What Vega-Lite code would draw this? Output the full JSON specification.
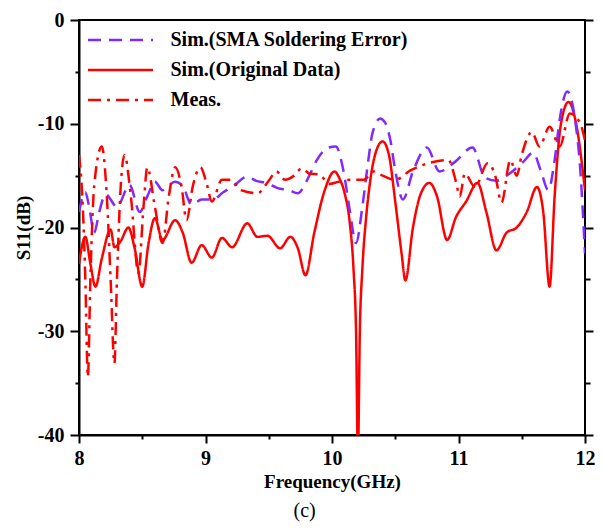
{
  "$schema": "https://vega.github.io/schema/vega-lite/v6.json",
  "width": 506,
  "height": 415,
  "autosize": {"type": "none"},
  "padding": {"left": 79, "top": 20, "right": 19, "bottom": 94},
  "background": "white",
  "title": {"text": "(c)", "orient": "bottom", "anchor": "middle", "frame": "bounds", "font": "Liberation Serif", "fontSize": 20, "fontWeight": "normal", "color": "black", "offset": 10},
  "config": {
    "view": {"stroke": "black", "strokeWidth": 2},
    "axis": {"domainColor": "black", "domainWidth": 2, "tickColor": "black", "tickWidth": 2, "grid": false, "labelFont": "Liberation Serif", "labelFontWeight": "bold", "labelFontSize": 20, "labelColor": "black", "titleFont": "Liberation Serif", "titleFontWeight": "bold", "titleFontSize": 19, "titleColor": "black"}
  },
  "datasets": {
    "d": [
      {"f": 8.00, "s": -23.5, "series": "Sim.(Original Data)"},
      {"f": 8.05, "s": -20.9, "series": "Sim.(Original Data)"},
      {"f": 8.09, "s": -23.5, "series": "Sim.(Original Data)"},
      {"f": 8.13, "s": -25.7, "series": "Sim.(Original Data)"},
      {"f": 8.18, "s": -23.0, "series": "Sim.(Original Data)"},
      {"f": 8.25, "s": -20.2, "series": "Sim.(Original Data)"},
      {"f": 8.28, "s": -21.9, "series": "Sim.(Original Data)"},
      {"f": 8.33, "s": -21.3, "series": "Sim.(Original Data)"},
      {"f": 8.39, "s": -20.0, "series": "Sim.(Original Data)"},
      {"f": 8.44, "s": -22.0, "series": "Sim.(Original Data)"},
      {"f": 8.50, "s": -25.7, "series": "Sim.(Original Data)"},
      {"f": 8.55, "s": -21.5, "series": "Sim.(Original Data)"},
      {"f": 8.60, "s": -19.1, "series": "Sim.(Original Data)"},
      {"f": 8.66, "s": -21.2, "series": "Sim.(Original Data)"},
      {"f": 8.76, "s": -19.3, "series": "Sim.(Original Data)"},
      {"f": 8.82, "s": -20.5, "series": "Sim.(Original Data)"},
      {"f": 8.89, "s": -23.4, "series": "Sim.(Original Data)"},
      {"f": 8.97, "s": -21.7, "series": "Sim.(Original Data)"},
      {"f": 9.05, "s": -22.9, "series": "Sim.(Original Data)"},
      {"f": 9.13, "s": -21.0, "series": "Sim.(Original Data)"},
      {"f": 9.21, "s": -21.9, "series": "Sim.(Original Data)"},
      {"f": 9.33, "s": -19.6, "series": "Sim.(Original Data)"},
      {"f": 9.41, "s": -20.9, "series": "Sim.(Original Data)"},
      {"f": 9.49, "s": -20.8, "series": "Sim.(Original Data)"},
      {"f": 9.59, "s": -22.0, "series": "Sim.(Original Data)"},
      {"f": 9.67, "s": -20.9, "series": "Sim.(Original Data)"},
      {"f": 9.73, "s": -22.0, "series": "Sim.(Original Data)"},
      {"f": 9.79, "s": -24.6, "series": "Sim.(Original Data)"},
      {"f": 9.86, "s": -20.5, "series": "Sim.(Original Data)"},
      {"f": 9.94, "s": -16.5, "series": "Sim.(Original Data)"},
      {"f": 10.02, "s": -14.6, "series": "Sim.(Original Data)"},
      {"f": 10.06, "s": -15.3, "series": "Sim.(Original Data)"},
      {"f": 10.10, "s": -16.7, "series": "Sim.(Original Data)"},
      {"f": 10.14, "s": -19.5, "series": "Sim.(Original Data)"},
      {"f": 10.17, "s": -24.0, "series": "Sim.(Original Data)"},
      {"f": 10.19, "s": -30.0, "series": "Sim.(Original Data)"},
      {"f": 10.205, "s": -42.0, "series": "Sim.(Original Data)"},
      {"f": 10.22, "s": -30.0, "series": "Sim.(Original Data)"},
      {"f": 10.24, "s": -24.0, "series": "Sim.(Original Data)"},
      {"f": 10.27, "s": -19.0, "series": "Sim.(Original Data)"},
      {"f": 10.30, "s": -15.7, "series": "Sim.(Original Data)"},
      {"f": 10.35, "s": -12.6, "series": "Sim.(Original Data)"},
      {"f": 10.40, "s": -11.7, "series": "Sim.(Original Data)"},
      {"f": 10.45, "s": -13.0, "series": "Sim.(Original Data)"},
      {"f": 10.50, "s": -17.5, "series": "Sim.(Original Data)"},
      {"f": 10.55, "s": -22.5, "series": "Sim.(Original Data)"},
      {"f": 10.58, "s": -25.1, "series": "Sim.(Original Data)"},
      {"f": 10.64, "s": -20.0, "series": "Sim.(Original Data)"},
      {"f": 10.70, "s": -16.8, "series": "Sim.(Original Data)"},
      {"f": 10.77, "s": -15.7, "series": "Sim.(Original Data)"},
      {"f": 10.83, "s": -17.0, "series": "Sim.(Original Data)"},
      {"f": 10.91, "s": -21.2, "series": "Sim.(Original Data)"},
      {"f": 10.98, "s": -19.0, "series": "Sim.(Original Data)"},
      {"f": 11.06, "s": -17.5, "series": "Sim.(Original Data)"},
      {"f": 11.15, "s": -15.7, "series": "Sim.(Original Data)"},
      {"f": 11.22, "s": -18.5, "series": "Sim.(Original Data)"},
      {"f": 11.30, "s": -22.2, "series": "Sim.(Original Data)"},
      {"f": 11.38, "s": -20.5, "series": "Sim.(Original Data)"},
      {"f": 11.46, "s": -20.0, "series": "Sim.(Original Data)"},
      {"f": 11.54, "s": -18.5, "series": "Sim.(Original Data)"},
      {"f": 11.62, "s": -16.1, "series": "Sim.(Original Data)"},
      {"f": 11.67, "s": -18.5, "series": "Sim.(Original Data)"},
      {"f": 11.72, "s": -25.7, "series": "Sim.(Original Data)"},
      {"f": 11.76, "s": -17.0, "series": "Sim.(Original Data)"},
      {"f": 11.81, "s": -10.0, "series": "Sim.(Original Data)"},
      {"f": 11.87, "s": -7.9, "series": "Sim.(Original Data)"},
      {"f": 11.93, "s": -10.0, "series": "Sim.(Original Data)"},
      {"f": 12.00, "s": -16.4, "series": "Sim.(Original Data)"},

      {"f": 8.00, "s": -18.5, "series": "Sim.(SMA Soldering Error)"},
      {"f": 8.05, "s": -16.6, "series": "Sim.(SMA Soldering Error)"},
      {"f": 8.08, "s": -18.0, "series": "Sim.(SMA Soldering Error)"},
      {"f": 8.12, "s": -20.5, "series": "Sim.(SMA Soldering Error)"},
      {"f": 8.16, "s": -18.5, "series": "Sim.(SMA Soldering Error)"},
      {"f": 8.21, "s": -16.8, "series": "Sim.(SMA Soldering Error)"},
      {"f": 8.30, "s": -18.0, "series": "Sim.(SMA Soldering Error)"},
      {"f": 8.40, "s": -15.9, "series": "Sim.(SMA Soldering Error)"},
      {"f": 8.48, "s": -18.5, "series": "Sim.(SMA Soldering Error)"},
      {"f": 8.54, "s": -17.0, "series": "Sim.(SMA Soldering Error)"},
      {"f": 8.60, "s": -15.6, "series": "Sim.(SMA Soldering Error)"},
      {"f": 8.66, "s": -16.4, "series": "Sim.(SMA Soldering Error)"},
      {"f": 8.76, "s": -15.6, "series": "Sim.(SMA Soldering Error)"},
      {"f": 8.82, "s": -16.0, "series": "Sim.(SMA Soldering Error)"},
      {"f": 8.89, "s": -17.8, "series": "Sim.(SMA Soldering Error)"},
      {"f": 8.97, "s": -17.3, "series": "Sim.(SMA Soldering Error)"},
      {"f": 9.06, "s": -17.3, "series": "Sim.(SMA Soldering Error)"},
      {"f": 9.14, "s": -16.6, "series": "Sim.(SMA Soldering Error)"},
      {"f": 9.22, "s": -16.0, "series": "Sim.(SMA Soldering Error)"},
      {"f": 9.33, "s": -15.1, "series": "Sim.(SMA Soldering Error)"},
      {"f": 9.40, "s": -15.5, "series": "Sim.(SMA Soldering Error)"},
      {"f": 9.48, "s": -15.7, "series": "Sim.(SMA Soldering Error)"},
      {"f": 9.57, "s": -16.2, "series": "Sim.(SMA Soldering Error)"},
      {"f": 9.66, "s": -16.4, "series": "Sim.(SMA Soldering Error)"},
      {"f": 9.73, "s": -16.7, "series": "Sim.(SMA Soldering Error)"},
      {"f": 9.80, "s": -15.5, "series": "Sim.(SMA Soldering Error)"},
      {"f": 9.88, "s": -13.5, "series": "Sim.(SMA Soldering Error)"},
      {"f": 9.97, "s": -12.3, "series": "Sim.(SMA Soldering Error)"},
      {"f": 10.03, "s": -12.2, "series": "Sim.(SMA Soldering Error)"},
      {"f": 10.09, "s": -14.5, "series": "Sim.(SMA Soldering Error)"},
      {"f": 10.14, "s": -18.3, "series": "Sim.(SMA Soldering Error)"},
      {"f": 10.19, "s": -21.5, "series": "Sim.(SMA Soldering Error)"},
      {"f": 10.24, "s": -18.0, "series": "Sim.(SMA Soldering Error)"},
      {"f": 10.28, "s": -14.2, "series": "Sim.(SMA Soldering Error)"},
      {"f": 10.32, "s": -10.9, "series": "Sim.(SMA Soldering Error)"},
      {"f": 10.38, "s": -9.5, "series": "Sim.(SMA Soldering Error)"},
      {"f": 10.42, "s": -9.9, "series": "Sim.(SMA Soldering Error)"},
      {"f": 10.46, "s": -11.5, "series": "Sim.(SMA Soldering Error)"},
      {"f": 10.50, "s": -14.5, "series": "Sim.(SMA Soldering Error)"},
      {"f": 10.56, "s": -17.3, "series": "Sim.(SMA Soldering Error)"},
      {"f": 10.64, "s": -14.6, "series": "Sim.(SMA Soldering Error)"},
      {"f": 10.75, "s": -12.3, "series": "Sim.(SMA Soldering Error)"},
      {"f": 10.85, "s": -14.6, "series": "Sim.(SMA Soldering Error)"},
      {"f": 10.97, "s": -13.7, "series": "Sim.(SMA Soldering Error)"},
      {"f": 11.11, "s": -12.3, "series": "Sim.(SMA Soldering Error)"},
      {"f": 11.21, "s": -15.2, "series": "Sim.(SMA Soldering Error)"},
      {"f": 11.30, "s": -15.5, "series": "Sim.(SMA Soldering Error)"},
      {"f": 11.38, "s": -15.0, "series": "Sim.(SMA Soldering Error)"},
      {"f": 11.51, "s": -13.7, "series": "Sim.(SMA Soldering Error)"},
      {"f": 11.59, "s": -12.8, "series": "Sim.(SMA Soldering Error)"},
      {"f": 11.65, "s": -14.5, "series": "Sim.(SMA Soldering Error)"},
      {"f": 11.71, "s": -16.4, "series": "Sim.(SMA Soldering Error)"},
      {"f": 11.76, "s": -13.5, "series": "Sim.(SMA Soldering Error)"},
      {"f": 11.80, "s": -9.6, "series": "Sim.(SMA Soldering Error)"},
      {"f": 11.86, "s": -6.9, "series": "Sim.(SMA Soldering Error)"},
      {"f": 11.92, "s": -9.5, "series": "Sim.(SMA Soldering Error)"},
      {"f": 11.96, "s": -14.0, "series": "Sim.(SMA Soldering Error)"},
      {"f": 12.00, "s": -22.5, "series": "Sim.(SMA Soldering Error)"},

      {"f": 8.00, "s": -13.0, "series": "Meas."},
      {"f": 8.03, "s": -18.0, "series": "Meas."},
      {"f": 8.05, "s": -25.0, "series": "Meas."},
      {"f": 8.07, "s": -34.4, "series": "Meas."},
      {"f": 8.09, "s": -25.0, "series": "Meas."},
      {"f": 8.12, "s": -16.0, "series": "Meas."},
      {"f": 8.18, "s": -12.2, "series": "Meas."},
      {"f": 8.22, "s": -17.0, "series": "Meas."},
      {"f": 8.25, "s": -25.0, "series": "Meas."},
      {"f": 8.28, "s": -33.1, "series": "Meas."},
      {"f": 8.30, "s": -25.0, "series": "Meas."},
      {"f": 8.33, "s": -16.0, "series": "Meas."},
      {"f": 8.36, "s": -13.0, "series": "Meas."},
      {"f": 8.41, "s": -17.0, "series": "Meas."},
      {"f": 8.47, "s": -24.4, "series": "Meas."},
      {"f": 8.51, "s": -18.0, "series": "Meas."},
      {"f": 8.54, "s": -14.2, "series": "Meas."},
      {"f": 8.60, "s": -18.0, "series": "Meas."},
      {"f": 8.66, "s": -21.5, "series": "Meas."},
      {"f": 8.71, "s": -17.0, "series": "Meas."},
      {"f": 8.76, "s": -14.2, "series": "Meas."},
      {"f": 8.81, "s": -16.0, "series": "Meas."},
      {"f": 8.85, "s": -19.3, "series": "Meas."},
      {"f": 8.90, "s": -16.0, "series": "Meas."},
      {"f": 8.96, "s": -14.2, "series": "Meas."},
      {"f": 9.01, "s": -15.8, "series": "Meas."},
      {"f": 9.05, "s": -17.5, "series": "Meas."},
      {"f": 9.13, "s": -15.4, "series": "Meas."},
      {"f": 9.20, "s": -15.4, "series": "Meas."},
      {"f": 9.28, "s": -16.4, "series": "Meas."},
      {"f": 9.41, "s": -16.7, "series": "Meas."},
      {"f": 9.50, "s": -15.5, "series": "Meas."},
      {"f": 9.56, "s": -14.6, "series": "Meas."},
      {"f": 9.63, "s": -15.4, "series": "Meas."},
      {"f": 9.70, "s": -15.0, "series": "Meas."},
      {"f": 9.76, "s": -14.3, "series": "Meas."},
      {"f": 9.82, "s": -14.8, "series": "Meas."},
      {"f": 9.90, "s": -14.9, "series": "Meas."},
      {"f": 9.98, "s": -15.8, "series": "Meas."},
      {"f": 10.05, "s": -15.6, "series": "Meas."},
      {"f": 10.15, "s": -15.4, "series": "Meas."},
      {"f": 10.25, "s": -15.4, "series": "Meas."},
      {"f": 10.33, "s": -14.6, "series": "Meas."},
      {"f": 10.40, "s": -15.0, "series": "Meas."},
      {"f": 10.50, "s": -15.4, "series": "Meas."},
      {"f": 10.62, "s": -14.5, "series": "Meas."},
      {"f": 10.76, "s": -13.8, "series": "Meas."},
      {"f": 10.84, "s": -13.6, "series": "Meas."},
      {"f": 10.92, "s": -13.5, "series": "Meas."},
      {"f": 10.98, "s": -15.6, "series": "Meas."},
      {"f": 11.01, "s": -17.0, "series": "Meas."},
      {"f": 11.05, "s": -14.8, "series": "Meas."},
      {"f": 11.13, "s": -16.1, "series": "Meas."},
      {"f": 11.23, "s": -13.8, "series": "Meas."},
      {"f": 11.29, "s": -15.0, "series": "Meas."},
      {"f": 11.34, "s": -17.6, "series": "Meas."},
      {"f": 11.41, "s": -13.5, "series": "Meas."},
      {"f": 11.46, "s": -15.0, "series": "Meas."},
      {"f": 11.50, "s": -13.0, "series": "Meas."},
      {"f": 11.58, "s": -10.8, "series": "Meas."},
      {"f": 11.64, "s": -12.2, "series": "Meas."},
      {"f": 11.72, "s": -10.3, "series": "Meas."},
      {"f": 11.80, "s": -12.2, "series": "Meas."},
      {"f": 11.88, "s": -9.0, "series": "Meas."},
      {"f": 11.96, "s": -9.9, "series": "Meas."},
      {"f": 12.00, "s": -11.6, "series": "Meas."}
    ]
  },
  "data": {"name": "d"},
  "layer": [
    {
      "mark": {"type": "line", "interpolate": "monotone", "strokeWidth": 2.5, "clip": true},
      "encoding": {
        "x": {"field": "f", "type": "quantitative", "scale": {"domain": [8, 12], "nice": false, "zero": false},
              "axis": {"title": "Frequency(GHz)", "values": [8, 8.5, 9, 9.5, 10, 10.5, 11, 11.5, 12], "labelExpr": "datum.value % 1 === 0 ? '' + datum.value : ''", "tickSize": {"condition": {"test": "datum.value % 1 === 0", "value": 8}, "value": 4}, "labelPadding": 5, "titlePadding": 4, "labelFlush": false}},
        "y": {"field": "s", "type": "quantitative", "scale": {"domain": [-40, 0], "nice": false, "zero": false},
              "axis": {"title": "S11(dB)", "values": [-40, -35, -30, -25, -20, -15, -10, -5, 0], "labelExpr": "datum.value % 10 === 0 ? '' + datum.value : ''", "tickSize": {"condition": {"test": "datum.value % 10 === 0", "value": 9}, "value": 4}, "labelPadding": 6, "titlePadding": 4}},
        "color": {"field": "series", "type": "nominal",
                  "scale": {"domain": ["Sim.(SMA Soldering Error)", "Sim.(Original Data)", "Meas."], "range": ["#7F2BFF", "#FF0000", "#FF0000"]},
                  "legend": {"title": null, "orient": "none", "legendX": 9, "legendY": 10, "padding": 0, "symbolType": "M-6.5,0H6.5", "symbolSize": 100, "symbolStrokeWidth": 2.5, "symbolFillColor": "transparent", "symbolOffset": 22.5, "labelFont": "Liberation Serif", "labelFontSize": 20, "labelFontWeight": "bold", "labelColor": "black", "labelOffset": 40, "rowPadding": 10, "labelLimit": 400,
                             "encode": {"symbols": {"update": {"strokeDash": {"signal": "datum.value === 'Meas.' ? [22,12,3,12] : (datum.value === 'Sim.(Original Data)' ? [1,0] : [22,12])"}}}}}},
        "strokeDash": {"field": "series", "type": "nominal",
                       "scale": {"domain": ["Sim.(SMA Soldering Error)", "Sim.(Original Data)", "Meas."], "range": [[13, 8], [1, 0], [13, 6, 3, 6]]},
                       "legend": null}
      }
    },
    {
      "mark": {"type": "point", "opacity": 0},
      "encoding": {
        "x": {"field": "f", "type": "quantitative"},
        "y": {"field": "s", "type": "quantitative",
              "axis": {"orient": "right", "title": null, "labels": false, "domain": false, "values": [-40, -35, -30, -25, -20, -15, -10, -5, 0], "tickSize": {"condition": {"test": "datum.value % 10 === 0", "value": 8}, "value": 5}}}
      }
    }
  ],
  "resolve": {"axis": {"y": "independent"}}
}
